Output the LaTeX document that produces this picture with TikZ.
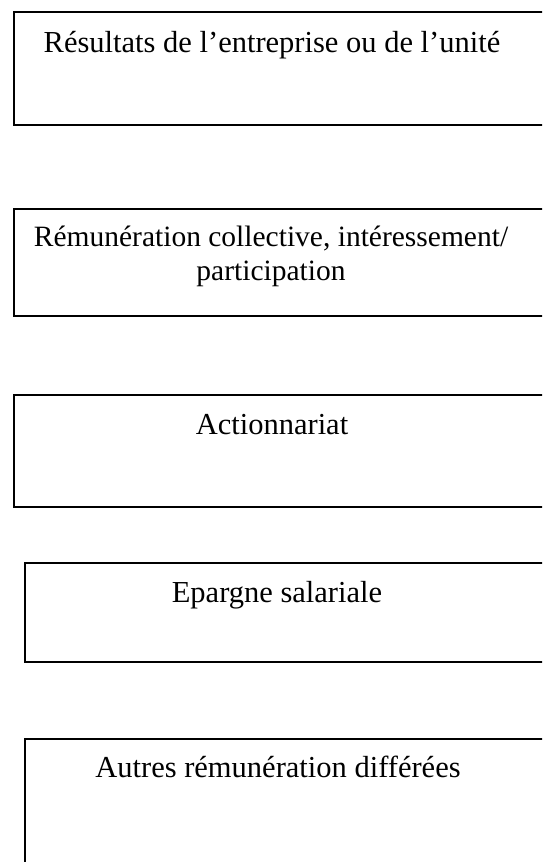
\documentclass[tikz,border=0pt]{standalone}
\usepackage{fontspec}
\setmainfont{Liberation Serif}
\begin{document}
\begin{tikzpicture}[x=1pt,y=-1pt,
  framebox/.style={draw=black,line width=2pt,rectangle,inner sep=0pt,anchor=north west},
  label/.style={inner sep=0pt,anchor=base,align=center,font=\fontsize{30.5}{34}\selectfont}]
  \useasboundingbox (0,0) rectangle (542,862);
  \clip (0,0) rectangle (542,862);
  % frames, open to the right and (last one) at the bottom
  \node[framebox,minimum width=560pt,minimum height=113pt] (b1) at (13,11) {};
  \node[framebox,minimum width=560pt,minimum height=107pt] (b2) at (13,208) {};
  \node[framebox,minimum width=560pt,minimum height=112pt] (b3) at (13,394) {};
  \node[framebox,minimum width=560pt,minimum height=99pt] (b4) at (24,562) {};
  \node[framebox,minimum width=560pt,minimum height=140pt] (b5) at (24,738) {};
  % captions
  \node[label] (t1) at (272,52) {Résultats de l’entreprise ou de l’unité};
  \node[label,font=\fontsize{29.5}{34}\selectfont] (t2a) at (271,246) {Rémunération collective, intéressement/};
  \node[label,font=\fontsize{29.5}{34}\selectfont] (t2b) at (271,280) {participation};
  \node[label] (t3) at (272,434) {Actionnariat};
  \node[label] (t4) at (277,602) {Epargne salariale};
  \node[label] (t5) at (278,777) {Autres rémunération différées};
\end{tikzpicture}
\end{document}
